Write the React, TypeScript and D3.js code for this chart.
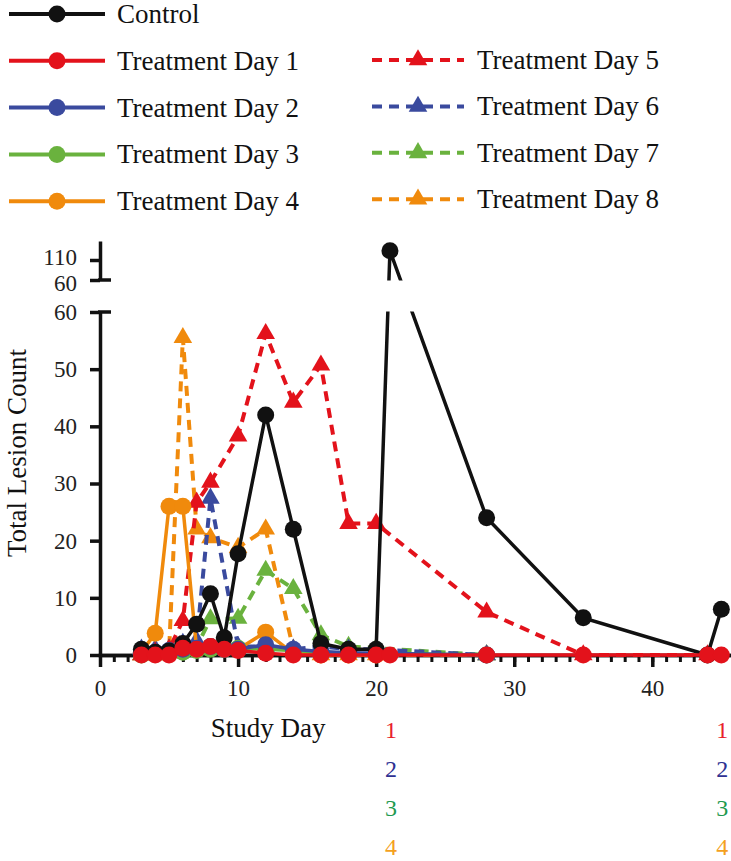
import React, { useEffect, useRef } from 'react';
import * as d3 from 'd3';

// lesion counts, one pair of arrays per group
const controlDays = [3, 4, 5, 6, 7, 8, 9, 10, 12, 14, 16, 18, 20, 21, 28, 35, 44, 45];
const controlCounts = [1, 0.5, 0.7, 2, 5.4, 10.7, 3, 17.7, 42, 22, 2, 1, 1, 133, 24, 6.5, 0, 8];

const day1Days = [3, 4, 5, 6, 7, 8, 9, 10, 12, 14, 16, 18, 20, 21, 28, 35, 44, 45];
const day1Counts = [0, 0, 0, 1.2, 1, 1.5, 1, 0.8, 0.3, 0, 0, 0, 0, 0, 0, 0, 0, 0];

const day2Days = [3, 4, 5, 6, 7, 8, 9, 10, 12, 14, 16, 18, 20, 28];
const day2Counts = [0.5, 0.5, 0.8, 1, 1.2, 1.5, 1, 1, 1.8, 1, 0.6, 0.4, 0.3, 0];

const day3Days = [3, 4, 5, 6, 7, 8, 9, 10, 12, 14, 16, 18, 20, 28];
const day3Counts = [0, 0.2, 0.3, 0.5, 0.8, 1, 1, 1.2, 1, 0.8, 0.5, 0.3, 0.2, 0];

const day4Days = [3, 4, 5, 6, 7, 8, 9, 10, 12, 14, 16, 18, 20];
const day4Counts = [0.5, 3.8, 26, 26, 1, 1.5, 1, 1, 4, 0.3, 0, 0, 0];

const day5Days = [3, 4, 5, 6, 7, 8, 10, 12, 14, 16, 18, 20, 28, 35, 44];
const day5Counts = [0, 0.5, 1, 6, 26.7, 30.2, 38.3, 56.2, 44.2, 50.7, 23, 23, 7.5, 0, 0];

const day6Days = [3, 4, 5, 6, 7, 8, 10, 12, 14, 16, 18, 20, 28];
const day6Counts = [1, 1, 1, 2, 2.5, 27.4, 1.5, 1.5, 1, 1.5, 1, 1, 0];

const day7Days = [3, 4, 5, 6, 7, 8, 10, 12, 14, 16, 18, 20, 28];
const day7Counts = [0, 0, 0.5, 1, 1.5, 6.3, 6.4, 14.8, 11.6, 3.5, 1.5, 1.2, 0];

const day8Days = [3, 4, 5, 6, 7, 8, 10, 12, 14, 16, 18, 20, 28];
const day8Counts = [0, 0, 0.5, 55.5, 22, 20.5, 18.8, 22, 1, 0, 0, 0, 0];

const lowTicks = [0, 10, 20, 30, 40, 50, 60];
const highTicks = [60, 110];
const xMajorTicks = [0, 10, 20, 30, 40];
const treatmentMarks = ['1', '2', '3', '4'];
const markDays = [21, 45];

const RED = '#e3121b';
const BLUE = '#3a4a9e';
const GREEN = '#6ab23e';
const ORANGE = '#f08a0c';

const series = [
  { name: 'Control', days: controlDays, counts: controlCounts, color: '#111', dashed: false },
  { name: 'Treatment Day 1', days: day1Days, counts: day1Counts, color: RED, dashed: false },
  { name: 'Treatment Day 2', days: day2Days, counts: day2Counts, color: BLUE, dashed: false },
  { name: 'Treatment Day 3', days: day3Days, counts: day3Counts, color: GREEN, dashed: false },
  { name: 'Treatment Day 4', days: day4Days, counts: day4Counts, color: ORANGE, dashed: false },
  { name: 'Treatment Day 5', days: day5Days, counts: day5Counts, color: RED, dashed: true },
  { name: 'Treatment Day 6', days: day6Days, counts: day6Counts, color: BLUE, dashed: true },
  { name: 'Treatment Day 7', days: day7Days, counts: day7Counts, color: GREEN, dashed: true },
  { name: 'Treatment Day 8', days: day8Days, counts: day8Counts, color: ORANGE, dashed: true },
];
// back to front
const drawOrder = [8, 7, 6, 5, 4, 3, 2, 0, 1];
const markColors = ['#e8202a', '#2e3192', '#1f9a4f', '#f4a11e'];

const W = 731;
const H = 861;
const FONT = '"Liberation Serif", "DejaVu Serif", serif';

const App = () => {
  const ref = useRef<SVGSVGElement>(null);

  useEffect(() => {
    const svg = d3.select(ref.current);
    svg.selectAll('*').remove();

    const x = d3.scaleLinear().domain([0, 45.7]).range([100, 731]);
    const yLow = d3.scaleLinear().domain([0, 60]).range([655, 312]);
    const yHigh = d3.scaleLinear().domain([60, 157.5]).range([280, 241]);
    const yOf = (v: number) => (v > 60 ? yHigh(v) : yLow(v));

    // clip away the axis break band
    const clip = svg.append('defs').append('clipPath').attr('id', 'brk');
    clip.append('rect').attr('x', 0).attr('y', 0).attr('width', W).attr('height', 280.5);
    clip.append('rect').attr('x', 0).attr('y', 311.5).attr('width', W).attr('height', H);

    // axes
    const styleAxis = (g: any, size: number) => {
      g.attr('font-family', FONT).attr('font-size', size);
      g.selectAll('path, line').attr('stroke', '#111').attr('stroke-width', 3.5).attr('stroke-linecap', 'square');
      g.selectAll('text').attr('fill', '#222');
    };

    const xMinor = svg.append('g').attr('transform', 'translate(0,655)')
      .call(d3.axisBottom(x).tickValues(d3.range(0, 46)).tickSize(7).tickSizeOuter(0).tickFormat(() => ''));
    styleAxis(xMinor, 23);
    xMinor.selectAll('line').attr('stroke-linecap', 'butt').attr('stroke-width', 3);

    const xMajor = svg.append('g').attr('transform', 'translate(0,655)')
      .call(d3.axisBottom(x).tickValues(xMajorTicks).tickSize(12).tickSizeOuter(0).tickPadding(13).tickFormat(d3.format('d')));
    styleAxis(xMajor, 23);
    xMajor.selectAll('line').attr('stroke-linecap', 'butt');

    const yAxisLow = svg.append('g').attr('transform', 'translate(100,0)')
      .call(d3.axisLeft(yLow).tickValues(lowTicks).tickSize(10).tickSizeOuter(0).tickPadding(13));
    styleAxis(yAxisLow, 23);
    yAxisLow.selectAll('line').attr('stroke-linecap', 'butt');
    yAxisLow.select('path').attr('stroke-linecap', 'butt');

    const yAxisHigh = svg.append('g').attr('transform', 'translate(100,0)')
      .call(d3.axisLeft(yHigh).tickValues(highTicks).tickSize(10).tickSizeOuter(0).tickPadding(13));
    styleAxis(yAxisHigh, 23);
    yAxisHigh.selectAll('line').attr('stroke-linecap', 'butt');
    yAxisHigh.select('path').attr('stroke-linecap', 'butt');
    yAxisHigh.selectAll('text').attr('dy', (d: any) => (d === 60 ? '0.45em' : '0.2em'));

    // break caps
    [yHigh(60), yLow(60)].forEach((yy) => {
      svg.append('line').attr('x1', 98).attr('x2', 111).attr('y1', yy).attr('y2', yy)
        .attr('stroke', '#111').attr('stroke-width', 3.5);
    });

    // series
    const line = d3.line<[number, number]>().x((d) => x(d[0])).y((d) => yOf(d[1]));
    const tri = d3.symbol().type(d3.symbolTriangle).size(150);

    drawOrder.forEach((i) => {
      const s = series[i];
      const pts: [number, number][] = s.days.map((d, k) => [d, s.counts[k]]);
      const g = svg.append('g');
      g.append('path')
        .attr('d', line(pts))
        .attr('clip-path', 'url(#brk)')
        .attr('fill', 'none')
        .attr('stroke', s.color)
        .attr('stroke-width', s.dashed ? 4 : 3.5)
        .attr('stroke-dasharray', s.dashed ? '10,7' : null);
      if (s.dashed) {
        g.selectAll('path.m').data(pts).enter().append('path')
          .attr('class', 'm')
          .attr('d', tri)
          .attr('transform', (d) => `translate(${x(d[0])},${yOf(d[1])})`)
          .attr('fill', s.color);
      } else {
        g.selectAll('circle').data(pts).enter().append('circle')
          .attr('cx', (d) => x(d[0]))
          .attr('cy', (d) => yOf(d[1]))
          .attr('r', 8.5)
          .attr('fill', s.color);
      }
    });

    // axis titles
    svg.append('text')
      .attr('transform', 'translate(26,453) rotate(-90)')
      .attr('text-anchor', 'middle')
      .attr('font-family', FONT).attr('font-size', 27).attr('fill', '#111')
      .text('Total Lesion Count');
    svg.append('text')
      .attr('x', 268).attr('y', 737)
      .attr('text-anchor', 'middle')
      .attr('font-family', FONT).attr('font-size', 27).attr('fill', '#111')
      .text('Study Day');

    // treatment markers under the axis
    markDays.forEach((md) => {
      treatmentMarks.forEach((t, k) => {
        svg.append('text')
          .attr('x', x(md) + 1).attr('y', 738 + k * 39)
          .attr('text-anchor', 'middle')
          .attr('font-family', FONT).attr('font-size', 24)
          .attr('fill', markColors[k])
          .text(t);
      });
    });

    // legend
    series.forEach((s, i) => {
      const col2 = i >= 5;
      const rowY = col2 ? 60 + (i - 5) * 46.4 : 14 + i * 46.8;
      const x0 = col2 ? 372 : 9;
      const x1 = col2 ? 464 : 105;
      const mx = (x0 + x1) / 2;
      const g = svg.append('g');
      g.append('line')
        .attr('x1', x0).attr('x2', x1).attr('y1', rowY).attr('y2', rowY)
        .attr('stroke', s.color).attr('stroke-width', 4)
        .attr('stroke-dasharray', s.dashed ? '10,7' : null);
      if (s.dashed) {
        g.append('path').attr('d', tri).attr('transform', `translate(${mx},${rowY})`).attr('fill', s.color);
      } else {
        g.append('circle').attr('cx', mx).attr('cy', rowY).attr('r', 8.5).attr('fill', s.color);
      }
      g.append('text')
        .attr('x', col2 ? 477 : 117).attr('y', rowY + 9)
        .attr('font-family', FONT).attr('font-size', 27).attr('fill', '#111')
        .text(s.name);
    });
  }, []);

  return (
    <svg ref={ref} width={W} height={H} style={{ position: 'absolute', left: 0, top: 0, background: '#fff' }} />
  );
};

export default App;
